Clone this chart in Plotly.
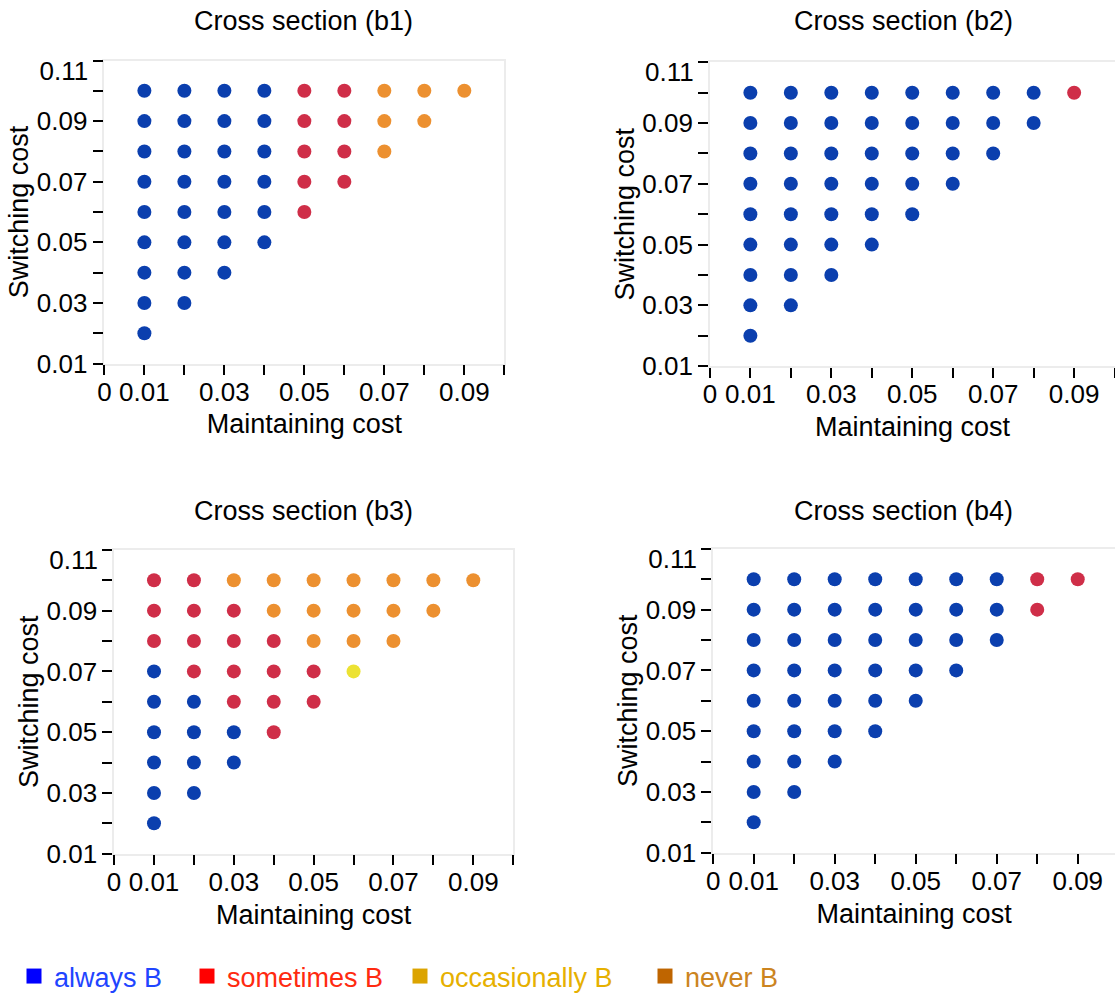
import plotly.graph_objects as go

# Grid of cost values
maintaining = [0.01, 0.02, 0.03, 0.04, 0.05, 0.06, 0.07, 0.08, 0.09]
switching = [0.10, 0.09, 0.08, 0.07, 0.06, 0.05, 0.04, 0.03, 0.02]

# Outcome per grid point, one string per switching-cost row (left to right in maintaining cost)
# A = always B, S = sometimes B, O = occasionally B, N = never B
outcomes_b1 = ["AAAASSNNN", "AAAASSNN", "AAAASSN", "AAAASS", "AAAAS", "AAAA", "AAA", "AA", "A"]
outcomes_b2 = ["AAAAAAAAS", "AAAAAAAA", "AAAAAAA", "AAAAAA", "AAAAA", "AAAA", "AAA", "AA", "A"]
outcomes_b3 = ["SSNNNNNNN", "SSSNNNNN", "SSSSNNN", "ASSSSO", "AASSS", "AAAS", "AAA", "AA", "A"]
outcomes_b4 = ["AAAAAAASS", "AAAAAAAS", "AAAAAAA", "AAAAAA", "AAAAA", "AAAA", "AAA", "AA", "A"]

panel_titles = ["Cross section (b1)", "Cross section (b2)", "Cross section (b3)", "Cross section (b4)"]
panels = [outcomes_b1, outcomes_b2, outcomes_b3, outcomes_b4]

categories = ["A", "S", "O", "N"]
legend_labels = ["always B", "sometimes B", "occasionally B", "never B"]
dot_colors = {"A": "#0b3fae", "S": "#cf2e48", "O": "#ece233", "N": "#ec9030"}
legend_colors = ["#0000ff", "#ff0000", "#dca400", "#bf6500"]
legend_text_colors = ["#1f45ff", "#ff2a10", "#e6b000", "#cc8420"]

x_tickvals = [0, 0.01, 0.02, 0.03, 0.04, 0.05, 0.06, 0.07, 0.08, 0.09, 0.10]
x_ticktext = ["0", "0.01", "", "0.03", "", "0.05", "", "0.07", "", "0.09", ""]
y_tickvals = [0.01, 0.02, 0.03, 0.04, 0.05, 0.06, 0.07, 0.08, 0.09, 0.10, 0.11]
y_ticktext = ["0.01", "", "0.03", "", "0.05", "", "0.07", "", "0.09", "", ""]
y_top_tick = 0.11
y_top_text = "0.11"

W, H = 1115, 995
FONT = "Liberation Sans, Arial, Helvetica, sans-serif"

# Plot-area placement in pixels: (left, right, top, bottom) and x-range end
areas = [
    (104.4, 504.3, 60.5, 363.6, 0.10),
    (709.9, 1115.0, 62.3, 366.1, 0.1001),
    (114.1, 513.2, 549.9, 853.7, 0.10),
    (713.2, 1115.0, 548.9, 852.7, 0.0992),
]
title_pos = [(303, 21), (903, 21), (303, 511), (903, 511)]

fig = go.Figure()
layout = {}
annotations = []

tick_font = dict(family=FONT, size=26, color="#000000")
label_font = dict(family=FONT, size=27, color="#000000")

for k, (rows, area) in enumerate(zip(panels, areas)):
    xa = "x" if k == 0 else f"x{k+1}"
    ya = "y" if k == 0 else f"y{k+1}"
    for cat in categories:
        xs, ys = [], []
        for i, row in enumerate(rows):
            for j, code in enumerate(row):
                if code == cat:
                    xs.append(maintaining[j])
                    ys.append(switching[i])
        if xs:
            fig.add_trace(go.Scatter(
                x=xs, y=ys, mode="markers", xaxis=xa, yaxis=ya,
                marker=dict(size=14, color=dot_colors[cat], line=dict(width=0)),
                showlegend=False, hoverinfo="x+y",
            ))
    left, right, top, bottom, xend = area
    axis_common = dict(
        showgrid=False, zeroline=False, showline=True, mirror=True,
        linecolor="#ececec", linewidth=1.5, automargin=False,
        ticks="outside", ticklen=10, tickwidth=1.5, tickcolor="#000000",
        tickmode="array", tickangle=0, tickfont=tick_font,
    )
    xname = "xaxis" if k == 0 else f"xaxis{k+1}"
    yname = "yaxis" if k == 0 else f"yaxis{k+1}"
    layout[xname] = dict(
        axis_common, domain=[left / W, right / W], range=[0, xend],
        tickvals=x_tickvals, ticktext=x_ticktext, anchor=ya, ticklabelstandoff=-6,
        title=dict(text="Maintaining cost", font=label_font, standoff=9),
    )
    layout[yname] = dict(
        axis_common, domain=[1 - bottom / H, 1 - top / H], range=[0.01, 0.11],
        tickvals=y_tickvals, ticktext=y_ticktext, anchor=xa,
        title=dict(text="Switching cost", font=label_font, standoff=0),
    )

    # top y label sits a little below its tick, drawn on an overlaid axis
    ov = 5 + k
    layout[f"yaxis{ov}"] = dict(
        overlaying=ya, anchor=xa, side="left", range=[0.01, 0.11],
        showgrid=False, zeroline=False, showline=False, automargin=False,
        ticks="outside", ticklen=10, tickwidth=1.5, tickcolor="rgba(0,0,0,0)",
        tickmode="array", tickvals=[y_top_tick], ticktext=[y_top_text],
        ticklabelshift=10, tickfont=tick_font,
    )
    fig.add_trace(go.Scatter(x=[None], y=[None], xaxis=xa, yaxis=f"y{ov}",
                             mode="markers", showlegend=False, hoverinfo="skip"))

    tx, ty = title_pos[k]
    annotations.append(dict(
        text=panel_titles[k], x=tx / W, y=1 - ty / H, xref="paper", yref="paper",
        xanchor="center", yanchor="middle", showarrow=False, font=label_font,
    ))

# Legend entries, each in its own legend box so they sit at their own offsets
legend_x = [14, 187, 400, 645]
for n, (label, col, tcol, lx) in enumerate(zip(legend_labels, legend_colors, legend_text_colors, legend_x)):
    lname = "legend" if n == 0 else f"legend{n+1}"
    fig.add_trace(go.Scatter(
        x=[None], y=[None], mode="markers", name=label,
        marker=dict(symbol="square", size=15, color=col),
        legend=lname, showlegend=True,
    ))
    layout[lname] = dict(
        x=lx / W, y=1 - 976.5 / H, xanchor="left", yanchor="middle",
        orientation="h", bgcolor="rgba(0,0,0,0)", borderwidth=0,
        font=dict(family=FONT, size=27, color=tcol),
    )

fig.update_layout(
    width=W, height=H, margin=dict(l=0, r=0, t=0, b=0, autoexpand=False),
    paper_bgcolor="#ffffff", plot_bgcolor="#ffffff",
    annotations=annotations, **layout,
)

fig.write_html("out.html")
